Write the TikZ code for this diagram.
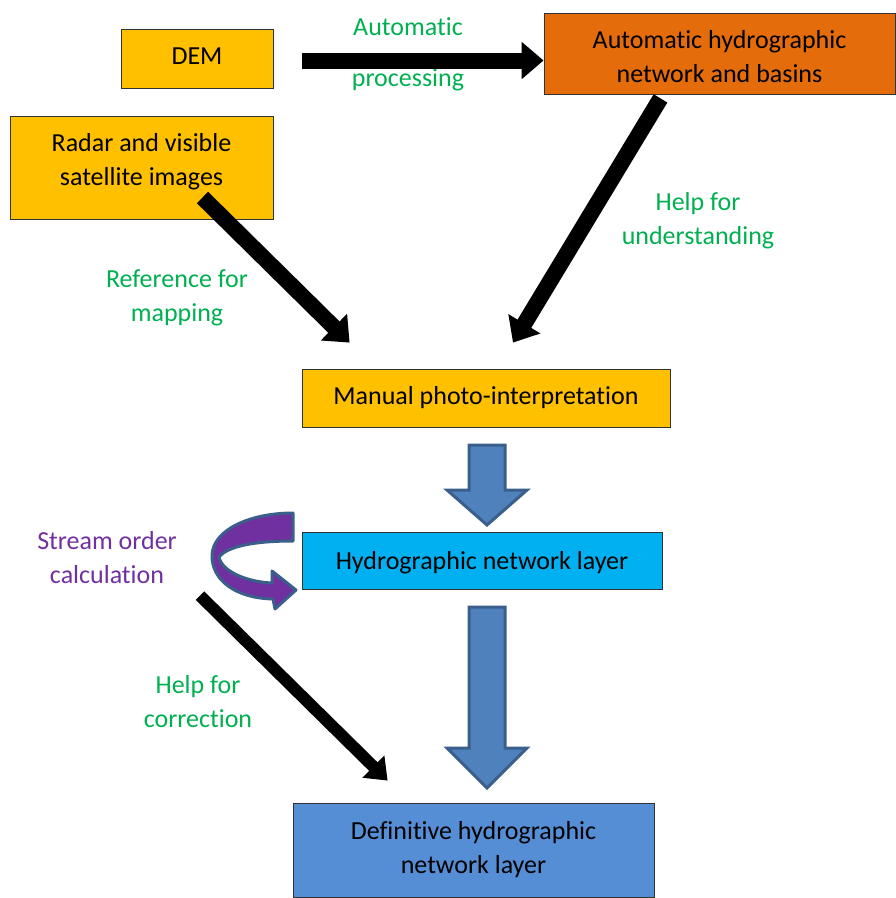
\documentclass[tikz,border=0pt]{standalone}
\usepackage{fontspec}
\setmainfont{Carlito}[Ligatures=NoCommon]
\usepackage{tikz}
\usetikzlibrary{arrows.meta,calc}
\definecolor{gold}{HTML}{FFC000}
\definecolor{burnt}{HTML}{E46C0A}
\definecolor{sky}{HTML}{00B0F0}
\definecolor{steel}{HTML}{558ED5}
\definecolor{arrowblue}{HTML}{4F81BD}
\definecolor{arrowedge}{HTML}{3A5F8B}
\definecolor{lblgreen}{HTML}{00B050}
\definecolor{lblpurple}{HTML}{7030A0}
\tikzset{
  box/.style={draw=black!80,line width=0.8pt,align=center,inner sep=0pt,font=\fontsize{26}{34}\selectfont},
  lbl/.style={text=lblgreen,align=center,font=\fontsize{26}{34}\selectfont},
  fat/.style={line width=16pt,-{Triangle[length=22pt,width=36pt]}},
  slim/.style={line width=12pt,-{Triangle[length=20pt,width=30pt]}},
  blk/.style={fill=arrowblue,draw=arrowedge,line width=3pt,line join=miter}
}
\newcommand{\blk}[4]{\draw[blk] (#1-18,#2) -- (#1+18,#2) -- (#1+18,#3) -- (#1+40,#3) -- (#1,#4) -- (#1-40,#3) -- (#1-18,#3) -- cycle;}
\newcommand{\up}[2]{\raisebox{#1}[\height][\depth]{\begin{tabular}{@{}c@{}}#2\end{tabular}}}

\begin{document}
\begin{tikzpicture}[x=1pt,y=-1pt]
\useasboundingbox (0,0) rectangle (896,898);
\node[box,fill=gold,minimum width=152pt,minimum height=59pt] (dem) at (197,58.5) {\up{1pt}{DEM}};
\node[box,fill=burnt,minimum width=351pt,minimum height=81pt] (auto) at (719.5,53.5) {\up{-5pt}{Automatic hydrographic\\network and basins}};
\node[box,fill=gold,minimum width=263pt,minimum height=103pt] (radar) at (141.5,167.5) {\up{6pt}{Radar and visible\\satellite images}};
\node[box,fill=gold,minimum width=368pt,minimum height=58pt] (manual) at (486,398) {Manual photo-interpretation};
\node[box,fill=sky,minimum width=360pt,minimum height=57pt] (hydro) at (482,560.5) {\up{-2pt}{Hydrographic network layer}};
\node[box,fill=steel,minimum width=361pt,minimum height=94pt] (defin) at (473.5,850) {Definitive hydrographic\\network layer};
% labels
\node[lbl] (autolbl) at (408,27) {Automatic};
\node[lbl] (proclbl) at (408,80) {processing};
\node[lbl] (helpund) at (698,221) {Help for\\understanding};
\node[lbl] (refmap) at (177,298) {Reference for\\mapping};
\node[lbl,text=lblpurple] (stream) at (107,558) {Stream order\\calculation};
\node[lbl] (helpcor) at (198,702) {Help for\\correction};
% connectors
\draw[fat] ([xshift=29pt,yshift=-2pt]dem.east) -- ([yshift=-7pt]auto.west);
\draw[fat] ($(auto.south)+(-59,4)$) -- ($(manual.north)+(27,-26)$);
\draw[fat] ($(radar.center)+(61,30)$) -- ($(manual.north west)+(48,-26)$);
\draw[slim] ($(stream.south)+(93,8)$) -- ($(defin.north west)+(95,-22)$);
% block arrows
\blk{487}{445}{490}{525}
\blk{487}{607}{748}{788}
% curved arrow
\draw[fill=lblpurple,draw=arrowedge,line width=3pt,line join=round]
  (293,513) .. controls (250,513) and (212,530) .. (212,556)
  .. controls (212,580) and (235,598) .. (273,599)
  -- (275,609) -- (296,590) -- (272,571) -- (272,583)
  .. controls (248,582) and (222,572) .. (219,557)
  .. controls (228,546) and (255,541) .. (293,541) -- cycle;
\end{tikzpicture}
\end{document}
